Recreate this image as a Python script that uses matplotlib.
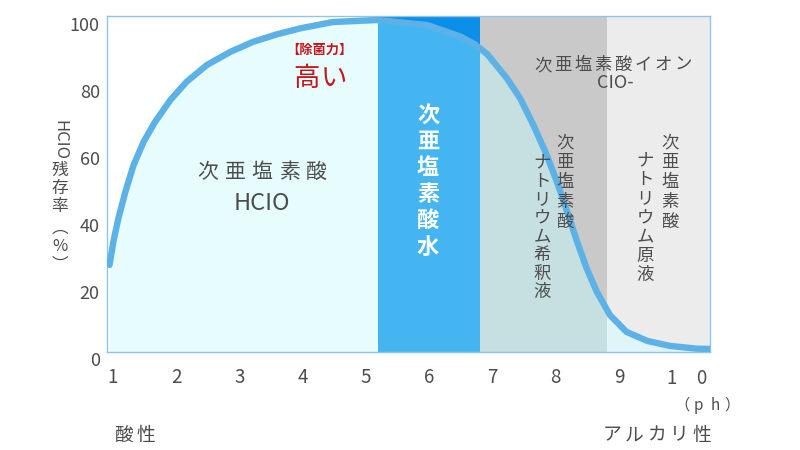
import numpy as np
import matplotlib
matplotlib.use("Agg")
import matplotlib.pyplot as plt
from matplotlib.patches import Rectangle

plt.rcParams['font.family'] = ['Noto Sans CJK JP', 'DejaVu Sans']

# HClO residual rate vs pH
ph = [0.95, 1.01, 1.09, 1.20, 1.33, 1.49, 1.67, 1.91, 2.17, 2.49, 2.86, 3.22,
      3.59, 3.96, 4.48, 5.18, 5.97, 6.49, 6.72, 6.92, 7.23, 7.44, 7.65, 7.86,
      8.04, 8.20, 8.34, 8.49, 8.65, 8.86, 9.12, 9.45, 9.81, 10.23, 10.45]
hclo = [28.7, 35.6, 42.6, 50.5, 58.5, 65.5, 71.4, 77.9, 83.4, 88.4, 92.3, 95.3,
        97.5, 99.3, 101.2, 101.8, 100.3, 96.9, 94.6, 91.6, 84.4, 78.4, 70.4, 61.5,
        52.5, 43.6, 35.6, 27.7, 20.7, 13.7, 8.7, 6.0, 4.5, 3.7, 3.6]

# background bands: (start pH, end pH, colour above curve, colour below curve)
band_edges = [0.91, 5.19, 6.81, 8.81, 10.44]
above_colors = ['#ffffff', '#0b8fe8', '#c9c9c9', '#ececec']
below_colors = ['#e7fcfd', '#45b5f2', '#c6dfe0', '#dff5f8']

x_ticks = [1, 2, 3, 4, 5, 6, 7, 8, 9, 10]
x_labels = ['1', '2', '3', '4', '5', '6', '7', '8', '9', '1 0']
y_ticks = [0, 20, 40, 60, 80, 100]

GRAY = '#4d4d4d'
RED = '#c4161c'

fig = plt.figure(figsize=(8, 4.5), dpi=100)
ax = fig.add_axes([107 / 800, 1 - 352 / 450, 603 / 800, 336 / 450])
ymin, ymax = 2.7, 103.0
ax.set_xlim(band_edges[0], band_edges[-1])
ax.set_ylim(ymin, ymax)


def px(x, y):
    return x / 800, 1 - y / 450


# bands, the part under the curve gets its own lighter colour
for i in range(len(above_colors)):
    x0, x1 = band_edges[i], band_edges[i + 1]
    ax.axvspan(x0, x1, color=above_colors[i], lw=0, zorder=0)
    poly = ax.fill_between(ph, ymin, hclo, color=below_colors[i], lw=0, zorder=1)
    clip = Rectangle((x0, ymin), x1 - x0, ymax - ymin, transform=ax.transData)
    poly.set_clip_path(clip)

ax.plot(ph, hclo, color='#5cb1e6', lw=4.6, solid_capstyle='round',
        solid_joinstyle='round', zorder=3)

for s in ax.spines.values():
    s.set_color('#8cc6ea')
    s.set_linewidth(1.0)
ax.set_xticks([])
ax.set_yticks([])

# tick labels
for t, lab in zip(x_ticks, x_labels):
    if ' ' in lab:
        for dx, ch in zip((-7.5, 14), lab.split()):
            ax.annotate(ch, (t, 0), xycoords=ax.get_xaxis_transform(),
                        xytext=(dx, -19), textcoords='offset points',
                        ha='center', va='center', fontsize=13.5, color=GRAY)
    else:
        ax.text(t, -0.077, lab, transform=ax.get_xaxis_transform(), ha='center',
                va='center', fontsize=13.5, color=GRAY)
for t in y_ticks:
    ax.text(-0.012, t, str(t), transform=ax.get_yaxis_transform(), ha='right',
            va='center', fontsize=13, color=GRAY, clip_on=False)


def htext(x, y, s, pitch, **kw):
    x0 = x - pitch * (len(s) - 1) / 2
    for i, ch in enumerate(s):
        fig.text(*px(x0 + i * pitch, y), ch, ha='center', va='center', **kw)


def vtext(x, y0, s, pitch, **kw):
    for i, ch in enumerate(s):
        fig.text(*px(x, y0 + i * pitch), ch, ha='center', va='center', **kw)


htext(707, 405, '（ph）', 16.5, fontsize=11, color=GRAY)
htext(135, 435, '酸性', 22, fontsize=13.5, color=GRAY)
htext(657, 435, 'アルカリ性', 22.5, fontsize=13.5, color=GRAY)

# y axis label, vertical writing
fig.text(*px(60, 140), 'HCIO', ha='center', va='center', rotation=-90,
         fontsize=12, color=GRAY)
vtext(60, 170, '残存率', 18.5, fontsize=12, color=GRAY)
vtext(60, 228, '︵%︶', 18.5, fontsize=12, color=GRAY)

# annotations
fig.text(*px(319, 50), '【除菌力】', ha='center', va='center', fontsize=9.5,
         color=RED, fontweight='bold')
htext(320, 78, '高い', 27, fontsize=19, color=RED)
htext(262, 172, '次亜塩素酸', 27, fontsize=15, color=GRAY)
fig.text(*px(262, 203), 'HCIO', ha='center', va='center', fontsize=17, color=GRAY)
vtext(428, 115, '次亜塩素酸水', 26.4, fontsize=16, color='white', fontweight='bold')
htext(613, 65, '次亜塩素酸イオン', 20, fontsize=12.5, color=GRAY)
fig.text(*px(615, 83), 'CIO-', ha='center', va='center', fontsize=13, color=GRAY)
vtext(565, 142, '次亜塩素酸', 20, fontsize=12.5, color=GRAY)
vtext(542, 162, 'ナトリウム希釈液', 18.6, fontsize=12.5, color=GRAY)
vtext(670, 142, '次亜塩素酸', 20, fontsize=12.5, color=GRAY)
vtext(645, 160, 'ナトリウム原液', 19.2, fontsize=12.5, color=GRAY)

fig.savefig('out.png', dpi=100, facecolor='white')
